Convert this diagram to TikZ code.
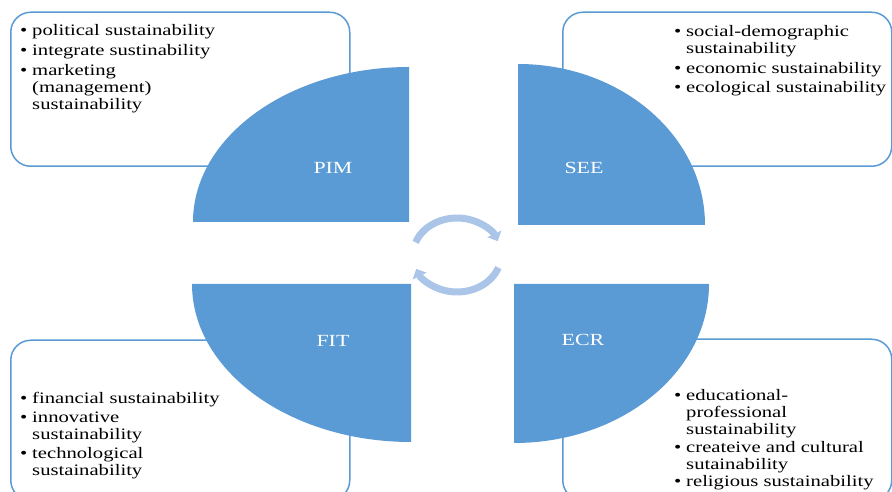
\documentclass[tikz,border=0pt]{standalone}
\usepackage{fontspec}
\newfontfamily\boxfont{Liberation Serif}[FakeStretch=1.29]
\usetikzlibrary{arrows.meta,calc}
\definecolor{qblue}{RGB}{91,155,213}
\definecolor{lblue}{RGB}{170,197,232}
\tikzset{
  infobox/.style={draw=qblue, line width=1.5pt, fill=white, rounded corners=20pt, inner sep=0pt},
  quad/.style={fill=qblue},
  qlabel/.style={text=white, font=\boxfont\fontsize{17}{20}\selectfont, inner sep=0pt},
  itemtext/.style={font=\boxfont\fontsize{16}{17}\selectfont, anchor=base west, inner sep=0pt, text=black},
  cyc/.style={draw=lblue, line width=7pt, -{Triangle[width=15pt,length=8pt]}}
}
\newcommand{\itemlist}[1]{\begin{tabular}[t]{@{}l@{\hspace{4.8pt}}l@{}}#1\end{tabular}}
\begin{document}
\begin{tikzpicture}[x=1pt,y=1pt]
\useasboundingbox (0,0) rectangle (892,492);
\fill[white] (0,0) rectangle (892,492);
% info boxes
\node[infobox, anchor=south west, minimum width=339pt, minimum height=154pt] (tlbox) at (10,325) {};
\node[infobox, anchor=south west, minimum width=329pt, minimum height=154pt] (trbox) at (562,325) {};
\node[infobox, anchor=south west, minimum width=339pt, minimum height=160pt] (blbox) at (10,-9) {};
\node[infobox, anchor=south west, minimum width=329pt, minimum height=161pt] (brbox) at (562,-9) {};
% quadrants
\fill[quad] (409,270) -- (193,270) arc[start angle=180, end angle=90, x radius=216, y radius=155] -- cycle;
\fill[quad] (518,267) -- (705,267) arc[start angle=0, end angle=90, x radius=187, y radius=161] -- cycle;
\fill[quad] (411,208) -- (192,208) arc[start angle=180, end angle=270, x radius=219, y radius=158] -- cycle;
\fill[quad] (514,208) -- (709,208) arc[start angle=0, end angle=-90, x radius=195, y radius=159] -- cycle;
\node[qlabel] (pim) at (333,324) {PIM};
\node[qlabel] (see) at (584,324) {SEE};
\node[qlabel] (fit) at (333,151) {FIT};
\node[qlabel] (ecr) at (583,152) {ECR};
% cycle arrows
\coordinate (cc) at (457,237);
\draw[cyc] ($(cc)+(160:44pt and 37pt)$) arc[start angle=160, end angle=22, x radius=44, y radius=37];
\draw[cyc] ($(cc)+(-20:44pt and 37pt)$) arc[start angle=-20, end angle=-158, x radius=44, y radius=37];
% texts
\node[itemtext] (tltext) at (20,456) {\itemlist{%
\textbullet & political sustainability\\[3pt]
\textbullet & integrate sustinability\\[3pt]
\textbullet & marketing\\
 & (management)\\
 & sustainability}};
\node[itemtext] (trtext) at (674,455) {\itemlist{%
\textbullet & social-demographic\\
 & sustainability\\[3pt]
\textbullet & economic sustainability\\[2pt]
\textbullet & ecological sustainability}};
\node[itemtext] (bltext) at (20,88) {\itemlist{%
\textbullet & financial sustainability\\[2pt]
\textbullet & innovative\\
 & sustainability\\[2pt]
\textbullet & technological\\
 & sustainability}};
\node[itemtext] (brtext) at (674,91) {\itemlist{%
\textbullet & educational-\\
 & professional\\
 & sustainability\\[0.5pt]
\textbullet & createive and cultural\\
 & sutainability\\[0.5pt]
\textbullet & religious sustainability}};
\end{tikzpicture}
\end{document}
